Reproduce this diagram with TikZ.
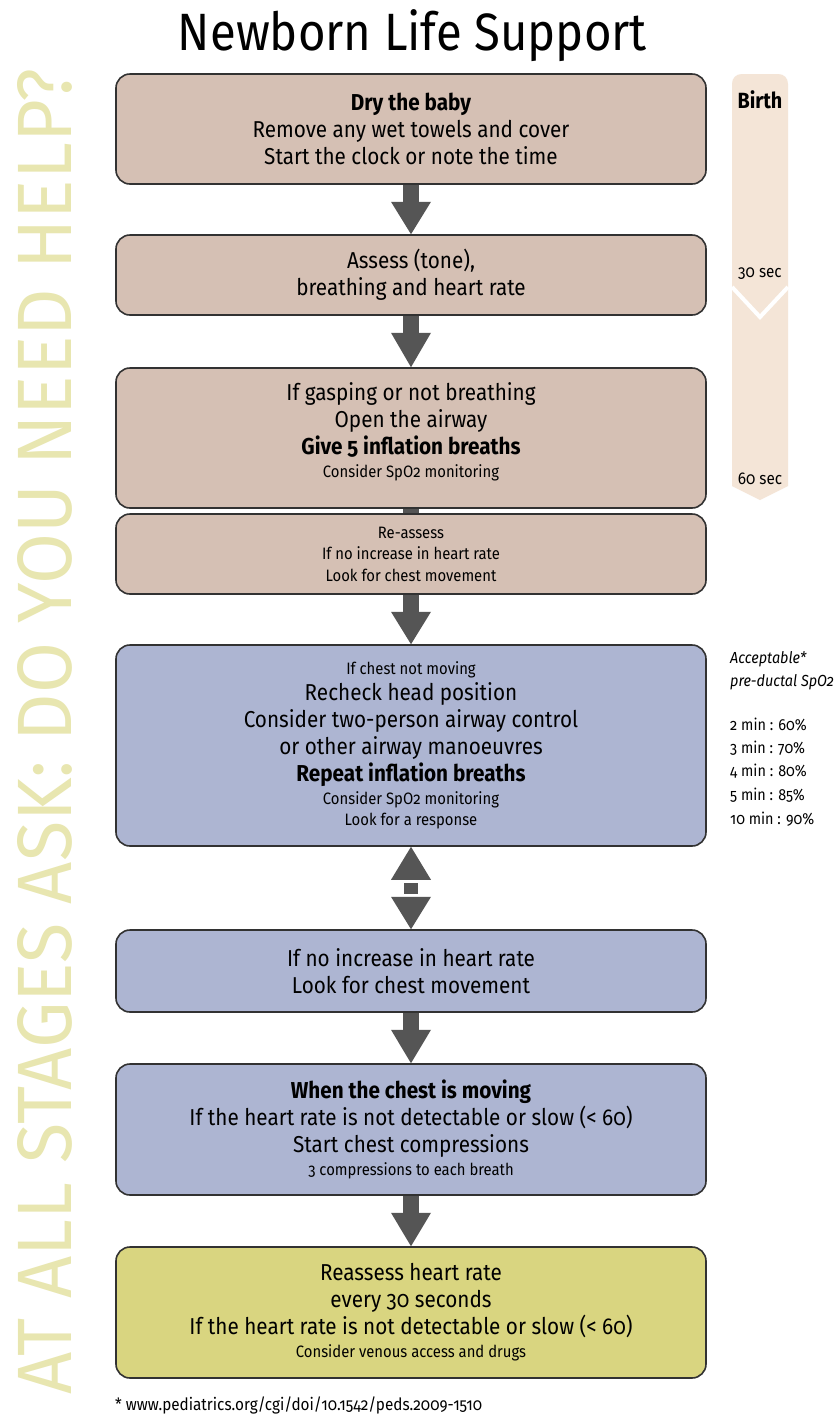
\documentclass[tikz,border=0pt]{standalone}
\usepackage{fontspec}
\setmainfont{Fira Sans}[FakeStretch=0.9,Numbers=OldStyle]
\newfontfamily\thinfont{Fira Sans}
\usetikzlibrary{calc}
\definecolor{brownbox}{RGB}{213,192,180}
\definecolor{bluebox}{RGB}{173,181,210}
\definecolor{yellowbox}{RGB}{217,213,128}
\definecolor{boxline}{RGB}{50,50,50}
\definecolor{arrowgray}{RGB}{85,85,85}
\definecolor{bandfill}{RGB}{244,229,215}
\definecolor{helptext}{RGB}{232,230,176}
\newcommand\bigf{\fontsize{23}{27}\selectfont}
\newcommand\midf{\fontsize{16.5}{21.5}\selectfont}
\newcommand\smallf{\fontsize{16.5}{19}\selectfont}
\newcommand\tablef{\fontsize{16}{19}\selectfont}
\newcommand\flowarrow[2]{%
  \fill[arrowgray] ($(#1.south)+(-8,0)$) rectangle ($(#1.south)+(8,17)$);
  \fill[arrowgray] ($(#1.south)+(-20,17)$) -- ($(#1.south)+(20,17)$) -- (#2.north) -- cycle;}
\begin{document}
\begin{tikzpicture}[x=1pt,y=-1pt,
  box/.style={draw=boxline, line width=1.6pt, rounded corners=14pt,
    minimum width=590pt, inner sep=0pt, align=center, font=\bigf},
  sidetext/.style={anchor=base west, font=\tablef, inner sep=0pt}]
\useasboundingbox[fill=white] (0,0) rectangle (836,1417);
% vertical help text
\node[rotate=90, inner sep=0pt, text=helptext] (help) at (45,732)
  {\resizebox{1325pt}{54pt}{\thinfont AT ALL STAGES ASK: DO YOU NEED HELP?}};
% title
\node[anchor=base, inner sep=0pt] (title) at (412.5,50)
  {\resizebox{469pt}{!}{\fontsize{50}{60}\selectfont Newborn Life Support}};
% boxes
\node[box, fill=brownbox, minimum height=110pt] (b1) at (411,129)
  {{\bfseries Dry the baby}\\Remove any wet towels and cover\\Start the clock or note the time};
\node[box, fill=brownbox, minimum height=80pt] (b2) at (411,275)
  {Assess (tone),\\breathing and heart rate};
\node[box, fill=brownbox, minimum height=140pt] (b3) at (411,438)
  {If gasping or not breathing\\Open the airway\\{\bfseries Give 5 inflation breaths}\\[-4pt]{\smallf Consider SpO2 monitoring}\\[-11pt]\rule{0pt}{0pt}};
\node[box, fill=brownbox, minimum height=80pt, font=\midf] (b4) at (411,554)
  {Re-assess\\If no increase in heart rate\\Look for chest movement};
\node[box, fill=bluebox, minimum height=201pt] (b5) at (411,745.5)
  {{\smallf If chest not moving}\\[-1pt]Recheck head position\\Consider two-person airway control\\or other airway manoeuvres\\{\bfseries Repeat inflation breaths}\\[-4pt]{\smallf Consider SpO2 monitoring}\\[-5.5pt]{\smallf Look for a response}};
\node[box, fill=bluebox, minimum height=82pt] (b6) at (411,971)
  {If no increase in heart rate\\Look for chest movement};
\node[box, fill=bluebox, minimum height=131pt] (b7) at (411,1129.5)
  {{\bfseries When the chest is moving}\\If the heart rate is not detectable or slow (< 60)\\Start chest compressions\\[-4pt]{\smallf 3 compressions to each breath}};
\node[box, fill=yellowbox, minimum height=131pt] (b8) at (411,1312.5)
  {Reassess heart rate\\every 30 seconds\\If the heart rate is not detectable or slow (< 60)\\[-4pt]{\smallf Consider venous access and drugs}};
% arrows
\flowarrow{b1}{b2}
\flowarrow{b2}{b3}
\fill[arrowgray] ($(b3.south)+(-8,0)$) rectangle ($(b4.north)+(8,0)$);
\flowarrow{b4}{b5}
\fill[arrowgray] (b5.south) -- ($(b5.south)+(20,33)$) -- ($(b5.south)+(-20,33)$) -- cycle;
\fill[arrowgray] ($(b5.south)+(-7,36)$) rectangle ($(b5.south)+(7,47)$);
\fill[arrowgray] ($(b5.south)+(-20,50)$) -- ($(b5.south)+(20,50)$) -- (b6.north) -- cycle;
\flowarrow{b6}{b7}
\flowarrow{b7}{b8}
% time band
\fill[bandfill] (732,486) -- (732,84) .. controls (732,78) and (736,74) .. (742,74)
  -- (778,74) .. controls (784,74) and (788,78) .. (788,84) -- (788,486) -- (760,500) -- cycle;
\draw[white, line width=4pt] (732,287) -- (760,317) -- (788,287);
\node[anchor=base, inner sep=0pt, font=\fontsize{22}{26}\selectfont\bfseries] (birth) at (760,108) {Birth};
\node[anchor=base, inner sep=0pt, font=\fontsize{17}{20}\selectfont] (t30) at (760,277) {30 sec};
\node[anchor=base, inner sep=0pt, font=\fontsize{17}{20}\selectfont] (t60) at (760,484) {60 sec};
% SpO2 table
\node[sidetext, font=\tablef\itshape] (acc1) at (730,663) {Acceptable*};
\node[sidetext, font=\tablef\itshape] (acc2) at (730,686) {pre-ductal SpO2};
\node[sidetext] (s2) at (730,730) {2 min : 60\%};
\node[sidetext] (s3) at (730,753) {3 min : 70\%};
\node[sidetext] (s4) at (730,776) {4 min : 80\%};
\node[sidetext] (s5) at (730,800) {5 min : 85\%};
\node[sidetext] (s10) at (730,824) {10 min : 90\%};
% footer
\node[sidetext, font=\fontsize{17}{20}\selectfont] (foot) at (115,1410) {* www.pediatrics.org/cgi/doi/10.1542/peds.2009-1510};
\end{tikzpicture}
\end{document}
